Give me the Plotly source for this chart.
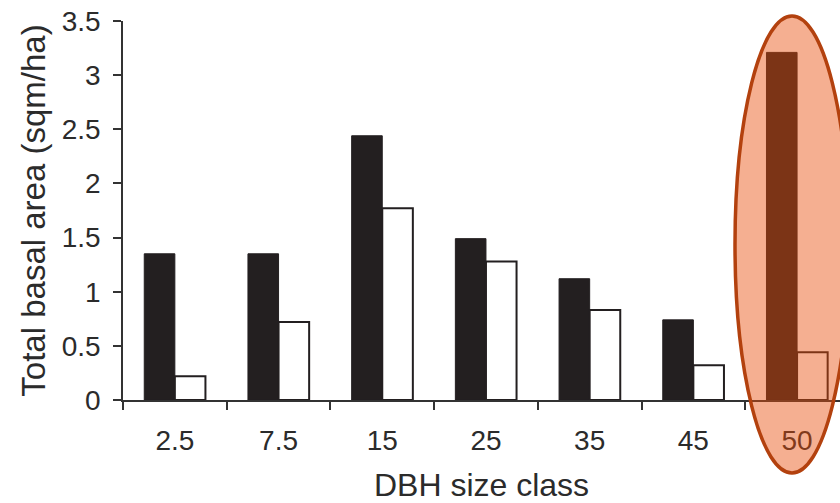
import plotly.graph_objects as go

categories = ["2.5", "7.5", "15", "25", "35", "45", "50"]
series_black = [1.35, 1.35, 2.44, 1.49, 1.12, 0.74, 3.21]
series_white = [0.22, 0.72, 1.77, 1.28, 0.83, 0.32, 0.44]
y_ticks = [0, 0.5, 1, 1.5, 2, 2.5, 3, 3.5]
y_tick_labels = ["0", "0.5", "1", "1.5", "2", "2.5", "3", "3.5"]

W, H = 840, 503
L, R, T, B = 123, 0, 21, 103
FONT = "Liberation Sans, Arial, sans-serif"
TXT = "#2b2b2b"

fig = go.Figure()
fig.add_trace(go.Bar(x=categories, y=series_black, marker=dict(color="#231f20", line=dict(color="#231f20", width=1)),
                     showlegend=False))
fig.add_trace(go.Bar(x=categories, y=series_white, marker=dict(color="white", line=dict(color="#231f20", width=2)),
                     showlegend=False))

pw = W - L - R
ph = H - T - B
def px2paper_x(px):
    return (px - L) / pw
def px2paper_y(py):
    return (H - B - py) / ph

fig.add_shape(type="circle", xref="paper", yref="paper",
              x0=px2paper_x(735), x1=px2paper_x(849),
              y0=px2paper_y(473), y1=px2paper_y(16),
              line=dict(color="#b3410e", width=3.5),
              fillcolor="rgba(232,78,10,0.45)", layer="above")

fig.update_layout(
    width=W, height=H,
    margin=dict(l=L, r=R, t=T, b=B, pad=0),
    paper_bgcolor="white", plot_bgcolor="white",
    barmode="group", bargap=0.41, bargroupgap=0.0,
    font=dict(family=FONT, size=28, color=TXT),
    xaxis=dict(
        type="category", range=[-0.5, 6.414], automargin=False,
        showline=True, linecolor="#333333", linewidth=1.5,
        ticks="outside", tickson="boundaries", ticklen=8, tickwidth=1.5, tickcolor="#333333",
        showgrid=False, zeroline=False,
        tickfont=dict(family=FONT, size=28, color=TXT),
        ticklabelstandoff=15,
        title=dict(text="DBH size class", font=dict(family=FONT, size=32, color=TXT), standoff=31),
    ),
    yaxis=dict(
        range=[0, 3.5], tickvals=y_ticks, ticktext=y_tick_labels, automargin=False,
        showline=True, linecolor="#333333", linewidth=1.5,
        ticks="outside", ticklen=8, tickwidth=1.5, tickcolor="#333333",
        showgrid=False, zeroline=False,
        tickfont=dict(family=FONT, size=28, color=TXT),
        ticklabelstandoff=7,
        title=dict(text="Total basal area (sqm/ha)", font=dict(family=FONT, size=33, color=TXT), standoff=6),
    ),
)

fig.write_html("out.html", config={"displayModeBar": False},
               post_script="document.body.style.margin='0';document.body.style.overflow='hidden';")
